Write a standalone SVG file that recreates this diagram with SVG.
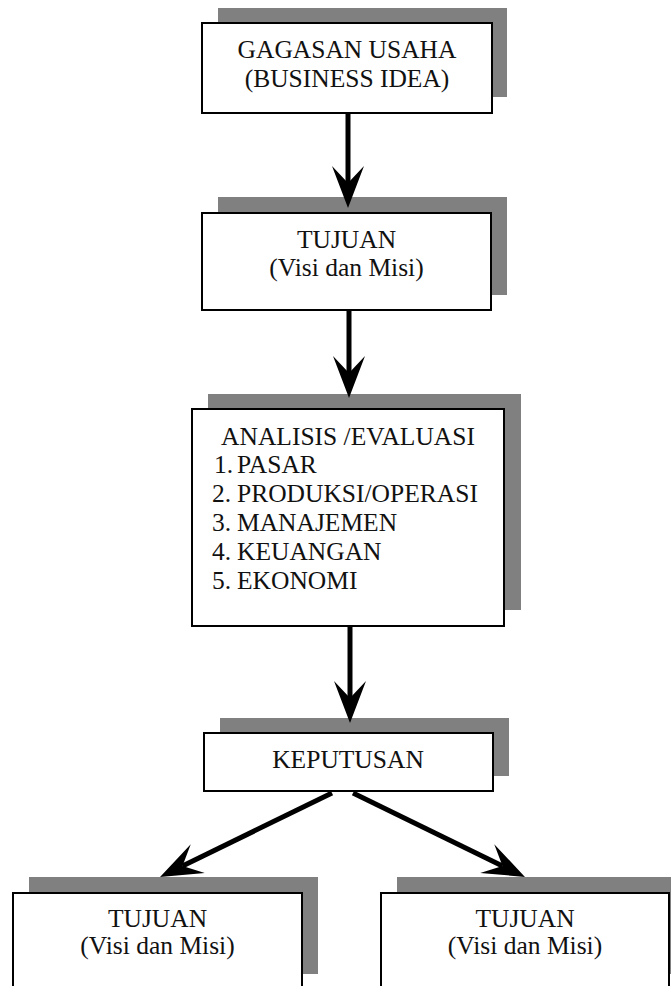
<svg xmlns="http://www.w3.org/2000/svg" width="671" height="986" viewBox="0 0 671 986">
  <style>
    .shadow { fill: #808080; }
    .box { fill: #ffffff; stroke: #000000; stroke-width: 2; }
    text { font-family: "Liberation Serif", Tinos, "Times New Roman", "DejaVu Serif", serif; font-size: 25.5px; fill: #111111; }
    .mid { text-anchor: middle; }
    .link { stroke: #000000; stroke-width: 5; fill: none; marker-end: url(#stealth); }
  </style>
  <defs>
    <marker id="stealth" markerUnits="userSpaceOnUse" viewBox="0 -17 44 34" markerWidth="44" markerHeight="34" refX="17" refY="0" orient="auto" overflow="visible">
      <path d="M0,-16 L42,0 L0,16 L17,0 Z" fill="#000000"/>
    </marker>
  </defs>
  <rect width="671" height="986" fill="#ffffff"/>

  <g id="idea">
    <rect class="shadow" x="218" y="8" width="289" height="89"/>
    <rect class="box" x="202" y="23" width="290" height="90"/>
    <text class="mid" x="347" y="58">GAGASAN USAHA</text>
    <text class="mid" x="347" y="87">(BUSINESS IDEA)</text>
  </g>

  <g id="tujuan">
    <rect class="shadow" x="218" y="197" width="289" height="98"/>
    <rect class="box" x="202" y="213" width="289" height="97"/>
    <text class="mid" x="346.5" y="248">TUJUAN</text>
    <text class="mid" x="346.5" y="276">(Visi dan Misi)</text>
  </g>

  <g id="analisis">
    <rect class="shadow" x="208" y="394" width="313" height="216"/>
    <rect class="box" x="192" y="409" width="312" height="217"/>
    <text class="mid" x="348" y="445">ANALISIS /EVALUASI</text>
    <text x="214" y="473">1.</text><text x="237" y="473">PASAR</text>
    <text x="212" y="502">2.</text><text x="237" y="502">PRODUKSI/OPERASI</text>
    <text x="212" y="531">3.</text><text x="237" y="531">MANAJEMEN</text>
    <text x="212" y="560">4.</text><text x="237" y="560">KEUANGAN</text>
    <text x="212" y="589">5.</text><text x="237" y="589">EKONOMI</text>
  </g>

  <g id="keputusan">
    <rect class="shadow" x="220" y="718" width="289" height="58"/>
    <rect class="box" x="204" y="733" width="289" height="58"/>
    <text class="mid" x="348" y="768">KEPUTUSAN</text>
  </g>

  <g id="tujuan-kiri">
    <rect class="shadow" x="29" y="877" width="289" height="97"/>
    <rect class="box" x="13" y="893" width="289" height="110"/>
    <text class="mid" x="157.5" y="927">TUJUAN</text>
    <text class="mid" x="157.5" y="954">(Visi dan Misi)</text>
  </g>

  <g id="tujuan-kanan">
    <rect class="shadow" x="397" y="877" width="290" height="97"/>
    <rect class="box" x="381" y="893" width="288" height="110"/>
    <text class="mid" x="525" y="927">TUJUAN</text>
    <text class="mid" x="525" y="954">(Visi dan Misi)</text>
  </g>

  <!-- arrow shafts end at the notch of the arrowhead; tips sit 25px further on -->
  <g id="connectors">
    <line class="link" x1="348" y1="114" x2="348" y2="183"/>
    <line class="link" x1="349" y1="311" x2="349" y2="373"/>
    <line class="link" x1="350" y1="627" x2="350" y2="698"/>
    <line class="link" x1="332" y1="793" x2="182.5" y2="866"/>
    <line class="link" x1="353" y1="793" x2="502.5" y2="866"/>
  </g>
</svg>
